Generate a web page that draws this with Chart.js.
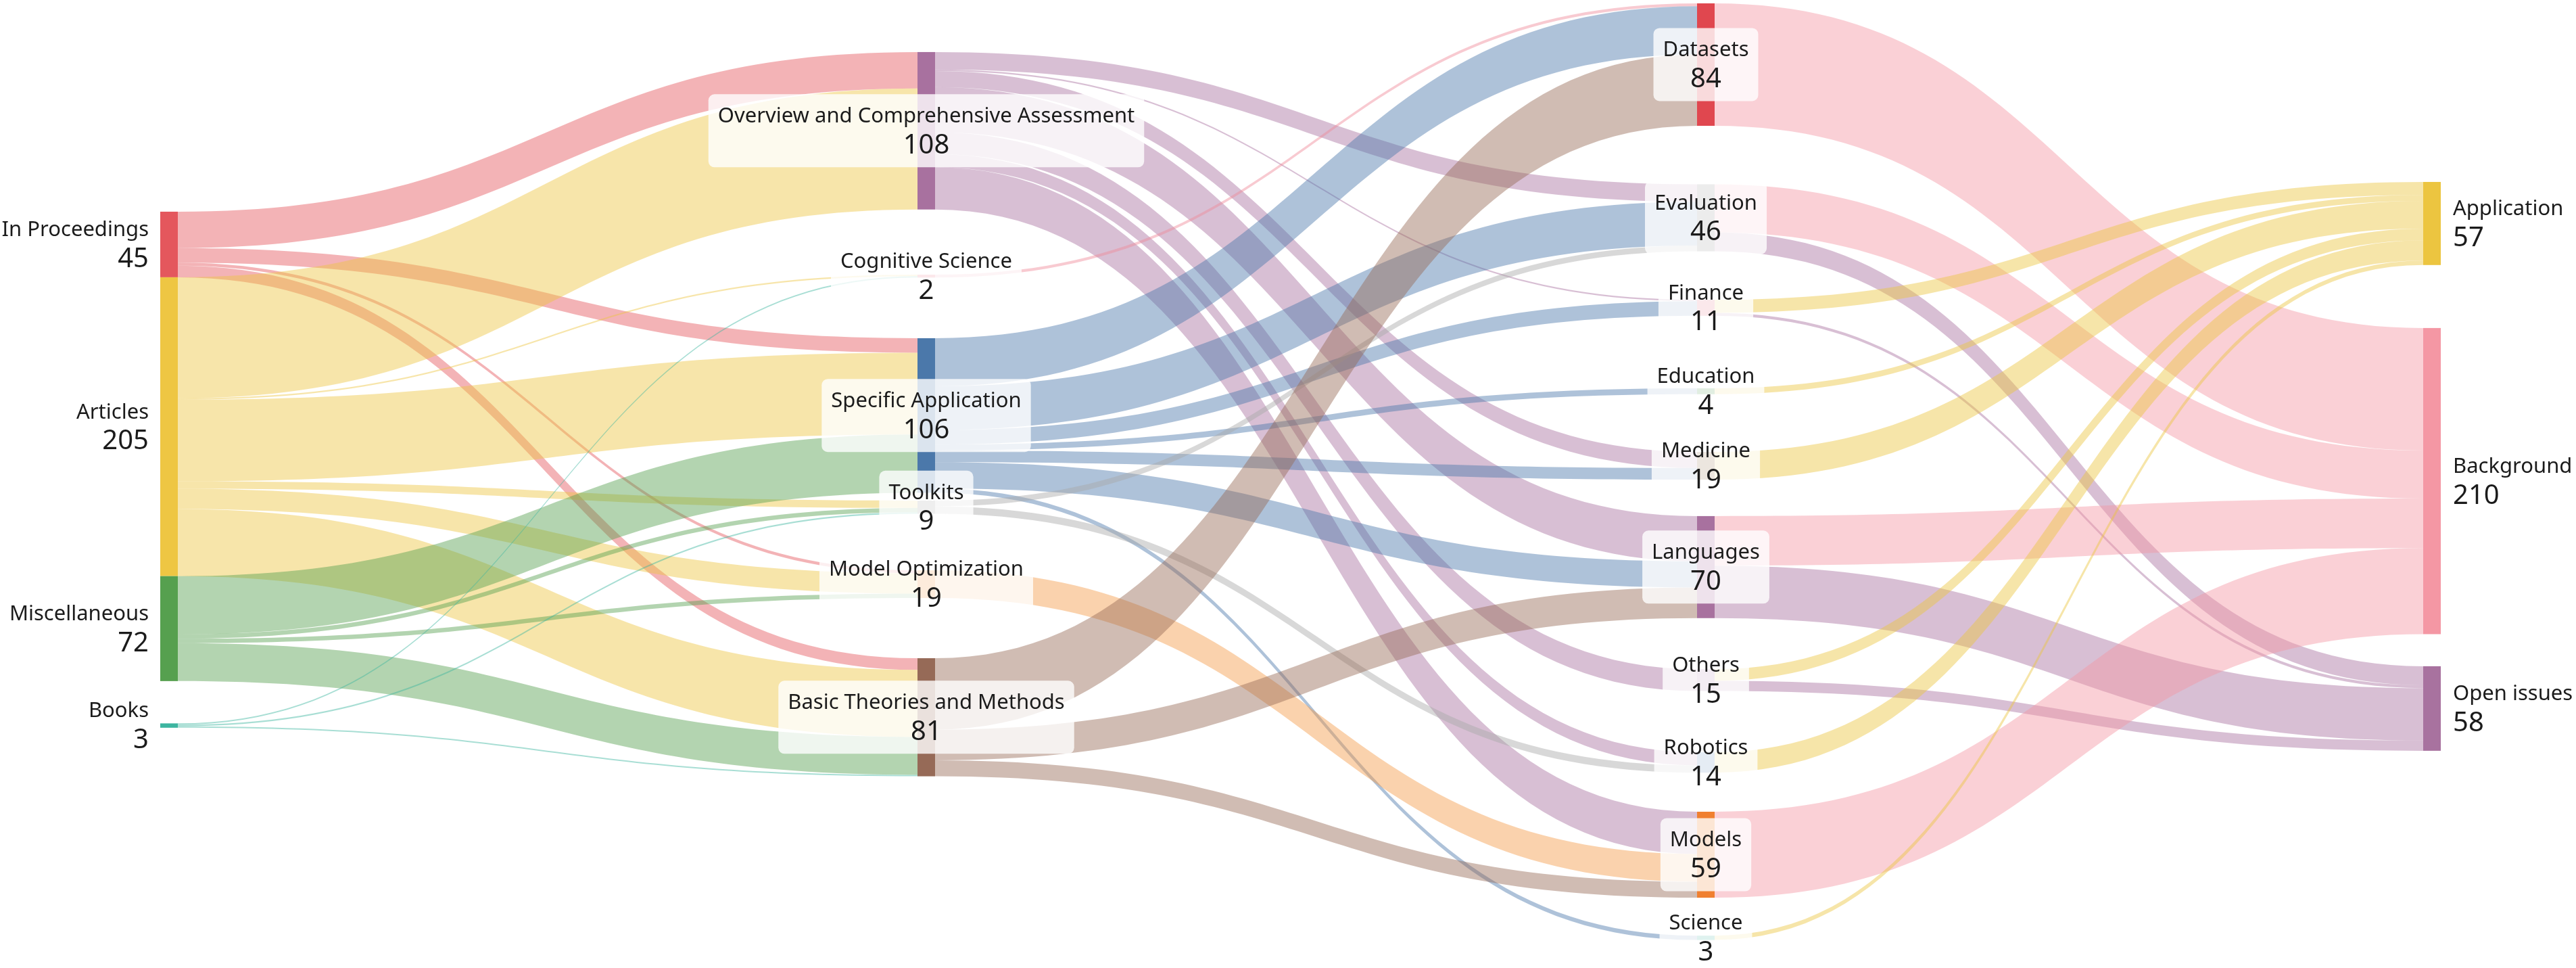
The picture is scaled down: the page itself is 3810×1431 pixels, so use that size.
<!DOCTYPE html>
<html>
<head>
<meta charset="utf-8">
<script src="https://cdn.jsdelivr.net/npm/chart.js@4.4.1/dist/chart.umd.min.js"></script>
<style>
  html, body { margin: 0; padding: 0; background: #fff; }
  #wrap { width: 3810px; height: 1431px; position: relative; }
</style>
</head>
<body>
<div id="wrap"><canvas id="sankey"></canvas></div>
<script>
// ---- data: nodes per column (top to bottom) ----
const sourceTypes = ['In Proceedings', 'Articles', 'Miscellaneous', 'Books'];
const sourceCounts = [45, 205, 72, 3];

const topics = ['Overview and Comprehensive Assessment', 'Cognitive Science', 'Specific Application',
  'Toolkits', 'Model Optimization', 'Basic Theories and Methods'];
const topicCounts = [108, 2, 106, 9, 19, 81];

const subjects = ['Datasets', 'Evaluation', 'Finance', 'Education', 'Medicine', 'Languages',
  'Others', 'Robotics', 'Models', 'Science'];
const subjectCounts = [84, 46, 11, 4, 19, 70, 15, 14, 59, 3];

const roles = ['Application', 'Background', 'Open issues'];
const roleCounts = [57, 210, 58];

// ---- data: flows [from, to, papers] ----
const typeToTopic = [
  ['In Proceedings', 'Overview and Comprehensive Assessment', 25],
  ['In Proceedings', 'Specific Application', 10],
  ['In Proceedings', 'Model Optimization', 2],
  ['In Proceedings', 'Basic Theories and Methods', 8],
  ['Articles', 'Overview and Comprehensive Assessment', 83],
  ['Articles', 'Cognitive Science', 1],
  ['Articles', 'Specific Application', 56],
  ['Articles', 'Toolkits', 5],
  ['Articles', 'Model Optimization', 14],
  ['Articles', 'Basic Theories and Methods', 46],
  ['Miscellaneous', 'Specific Application', 40],
  ['Miscellaneous', 'Toolkits', 3],
  ['Miscellaneous', 'Model Optimization', 3],
  ['Miscellaneous', 'Basic Theories and Methods', 26],
  ['Books', 'Cognitive Science', 1],
  ['Books', 'Toolkits', 1],
  ['Books', 'Basic Theories and Methods', 1]
];

const topicToSubject = [
  ['Overview and Comprehensive Assessment', 'Evaluation', 12],
  ['Overview and Comprehensive Assessment', 'Finance', 1],
  ['Overview and Comprehensive Assessment', 'Medicine', 11],
  ['Overview and Comprehensive Assessment', 'Languages', 31],
  ['Overview and Comprehensive Assessment', 'Others', 15],
  ['Overview and Comprehensive Assessment', 'Robotics', 9],
  ['Overview and Comprehensive Assessment', 'Models', 29],
  ['Cognitive Science', 'Datasets', 2],
  ['Specific Application', 'Datasets', 33],
  ['Specific Application', 'Evaluation', 30],
  ['Specific Application', 'Finance', 10],
  ['Specific Application', 'Education', 4],
  ['Specific Application', 'Medicine', 8],
  ['Specific Application', 'Languages', 18],
  ['Specific Application', 'Science', 3],
  ['Toolkits', 'Evaluation', 4],
  ['Toolkits', 'Robotics', 5],
  ['Model Optimization', 'Models', 19],
  ['Basic Theories and Methods', 'Datasets', 49],
  ['Basic Theories and Methods', 'Languages', 21],
  ['Basic Theories and Methods', 'Models', 11]
];

const subjectToRole = [
  ['Datasets', 'Background', 84],
  ['Evaluation', 'Background', 33],
  ['Evaluation', 'Open issues', 13],
  ['Finance', 'Application', 9],
  ['Finance', 'Open issues', 2],
  ['Education', 'Application', 4],
  ['Medicine', 'Application', 19],
  ['Languages', 'Background', 34],
  ['Languages', 'Open issues', 36],
  ['Others', 'Application', 8],
  ['Others', 'Open issues', 7],
  ['Robotics', 'Application', 14],
  ['Models', 'Background', 59],
  ['Science', 'Application', 3]
];

// ---- styles and layout (kept apart from the data) ----
const nodeColors = {
  'In Proceedings': '#e4575d', 'Articles': '#eec643', 'Miscellaneous': '#56a04f', 'Books': '#3db5a0',
  'Overview and Comprehensive Assessment': '#a8719f', 'Cognitive Science': '#f08a9a',
  'Specific Application': '#4b78aa', 'Toolkits': '#a9a9a9', 'Model Optimization': '#f39c4a',
  'Basic Theories and Methods': '#966a57',
  'Datasets': '#e0474f', 'Evaluation': '#9e9e9e', 'Finance': '#e88a9a', 'Education': '#6aa86a',
  'Medicine': '#a08060', 'Languages': '#a8719f', 'Others': '#c0a0c0', 'Robotics': '#7fa0c8',
  'Models': '#f08030', 'Science': '#5fbfb0',
  'Application': '#ecc540', 'Background': '#f497a4', 'Open issues': '#a8729f'
};
const linkColorBy = ['source', 'source', 'target'];
const linkAlpha = 0.45;

const colX = [237, 1357, 2510, 3584];   // x-scale value of each column's left edge
const nodeW = 26;
// spacing above each node, in paper units of the y scale
const nodeGaps = [
  [145.2, 0, 0, 29],
  [35.7, 44.7, 41.6, 5.4, 38.8, 41.3],
  [2.3, 40.1, 33.2, 49.8, 39.6, 25, 35, 42, 26.8, 26],
  [124.8, 43.2, 22]
];

const columns = [
  [sourceTypes, sourceCounts],
  [topics, topicCounts],
  [subjects, subjectCounts],
  [roles, roleCounts]
];
const layers = [typeToTopic, topicToSubject, subjectToRole];

// build node/link layout in data units
const nodes = {};
columns.forEach(([names, counts], c) => {
  let y = 0;
  names.forEach((name, i) => {
    y += nodeGaps[c][i];
    nodes[name] = { name, col: c, idx: i, value: counts[i], y0: y, y1: y + counts[i] };
    y += counts[i];
  });
});

const links = [];
layers.forEach((flows, l) => {
  flows.forEach(([s, t, v]) => links.push({ s: nodes[s], t: nodes[t], v, layer: l }));
});
Object.values(nodes).forEach(n => {
  let y = n.y0;
  links.filter(k => k.s === n).sort((a, b) => a.t.idx - b.t.idx)
    .forEach(k => { k.sy0 = y; y += k.v; k.sy1 = y; });
  y = n.y0;
  links.filter(k => k.t === n).sort((a, b) => a.s.idx - b.s.idx)
    .forEach(k => { k.ty0 = y; y += k.v; k.ty1 = y; });
});

function withAlpha(hex, a) {
  const r = parseInt(hex.slice(1, 3), 16), g = parseInt(hex.slice(3, 5), 16), b = parseInt(hex.slice(5, 7), 16);
  return `rgba(${r},${g},${b},${a})`;
}

function roundRect(ctx, x, y, w, h, r) {
  ctx.beginPath();
  ctx.moveTo(x + r, y);
  ctx.arcTo(x + w, y, x + w, y + h, r);
  ctx.arcTo(x + w, y + h, x, y + h, r);
  ctx.arcTo(x, y + h, x, y, r);
  ctx.arcTo(x, y, x + w, y, r);
  ctx.closePath();
}

const nameFont = '31px "Noto Sans", sans-serif';
const valueFont = '40px "Noto Sans", sans-serif';

const sankeyPlugin = {
  id: 'sankeyPlugin',
  afterDatasetsDraw(chart) {
    const { ctx } = chart;
    const xs = chart.scales.x, ys = chart.scales.y;
    ctx.save();

    // links
    links.forEach(k => {
      const x0 = xs.getPixelForValue(colX[k.s.col] + nodeW);
      const x1 = xs.getPixelForValue(colX[k.t.col]);
      const xm = (x0 + x1) / 2;
      const a0 = ys.getPixelForValue(k.sy0), a1 = ys.getPixelForValue(k.sy1);
      const b0 = ys.getPixelForValue(k.ty0), b1 = ys.getPixelForValue(k.ty1);
      const base = linkColorBy[k.layer] === 'source' ? nodeColors[k.s.name] : nodeColors[k.t.name];
      ctx.fillStyle = withAlpha(base, linkAlpha);
      ctx.beginPath();
      ctx.moveTo(x0, a0);
      ctx.bezierCurveTo(xm, a0, xm, b0, x1, b0);
      ctx.lineTo(x1, b1);
      ctx.bezierCurveTo(xm, b1, xm, a1, x0, a1);
      ctx.closePath();
      ctx.fill();
    });

    // nodes
    Object.values(nodes).forEach(n => {
      const left = xs.getPixelForValue(colX[n.col]);
      const right = xs.getPixelForValue(colX[n.col] + nodeW);
      const top = ys.getPixelForValue(n.y0), bottom = ys.getPixelForValue(n.y1);
      ctx.fillStyle = nodeColors[n.name];
      ctx.fillRect(left, top, right - left, Math.max(bottom - top, 1));
    });

    // labels
    ctx.textBaseline = 'middle';
    Object.values(nodes).forEach(n => {
      const left = xs.getPixelForValue(colX[n.col]);
      const right = xs.getPixelForValue(colX[n.col] + nodeW);
      const cy = ys.getPixelForValue((n.y0 + n.y1) / 2);
      const valueText = String(n.value);
      let tx, align;
      if (n.col === 0) { tx = left - 17; align = 'right'; }
      else if (n.col === 3) { tx = right + 18; align = 'left'; }
      else {
        tx = (left + right) / 2; align = 'center';
        ctx.font = nameFont;
        const w1 = ctx.measureText(n.name).width;
        ctx.font = valueFont;
        const w2 = ctx.measureText(valueText).width;
        const bw = Math.max(w1, w2) + 28;
        ctx.fillStyle = 'rgba(255,255,255,0.8)';
        roundRect(ctx, tx - bw / 2, cy - 54, bw, 108, 9);
        ctx.fill();
      }
      ctx.textAlign = align;
      ctx.fillStyle = '#1b1b1b';
      ctx.font = nameFont;
      ctx.fillText(n.name, tx, cy - 21);
      ctx.font = valueFont;
      ctx.fillText(valueText, tx, cy + 22);
    });
    ctx.restore();
  }
};

new Chart(document.getElementById('sankey'), {
  type: 'scatter',
  data: { datasets: [{ data: [], pointRadius: 0 }] },
  options: {
    responsive: true,
    maintainAspectRatio: false,
    animation: false,
    layout: { padding: 0 },
    plugins: { legend: { display: false }, tooltip: { enabled: false } },
    scales: {
      x: { type: 'linear', display: false, min: 0, max: 3810 },
      y: { type: 'linear', display: false, min: 0, max: 664, reverse: true }
    }
  },
  plugins: [sankeyPlugin]
});
</script>
</body>
</html>
